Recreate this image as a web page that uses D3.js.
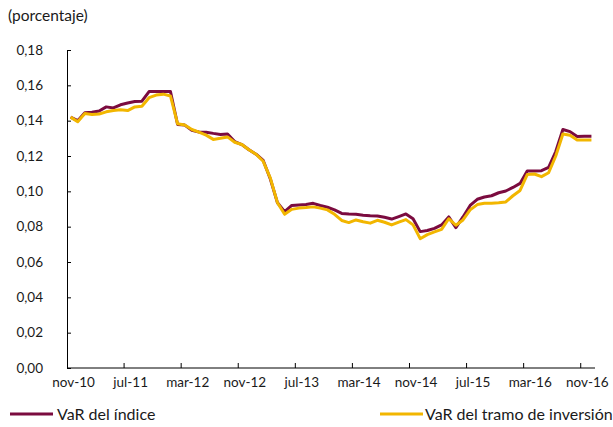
<!DOCTYPE html>
<html><head><meta charset="utf-8">
<script src="https://cdn.jsdelivr.net/npm/d3@7"></script>
<style>
html,body{margin:0;padding:0;background:#fff;}
text{font-family:Lato,"Open Sans",sans-serif;fill:#1a1a1a;}
</style></head>
<body><svg id="c" width="613" height="427"></svg>
<script>
const months = [
"nov-10","dic-10",
"ene-11","feb-11","mar-11","abr-11","may-11","jun-11","jul-11","ago-11","sep-11","oct-11","nov-11","dic-11",
"ene-12","feb-12","mar-12","abr-12","may-12","jun-12","jul-12","ago-12","sep-12","oct-12","nov-12","dic-12",
"ene-13","feb-13","mar-13","abr-13","may-13","jun-13","jul-13","ago-13","sep-13","oct-13","nov-13","dic-13",
"ene-14","feb-14","mar-14","abr-14","may-14","jun-14","jul-14","ago-14","sep-14","oct-14","nov-14","dic-14",
"ene-15","feb-15","mar-15","abr-15","may-15","jun-15","jul-15","ago-15","sep-15","oct-15","nov-15","dic-15",
"ene-16","feb-16","mar-16","abr-16","may-16","jun-16","jul-16","ago-16","sep-16","oct-16","nov-16","dic-16"];

const varIndice = [
0.1420,0.1400,0.1445,0.1448,0.1455,0.1478,0.1472,0.1490,0.1500,0.1508,
0.1510,0.1565,0.1565,0.1565,0.1565,0.1378,0.1375,0.1345,0.1336,0.1335,
0.1328,0.1322,0.1325,0.1282,0.1265,0.1235,0.1210,0.1175,0.1070,0.0935,
0.0885,0.0920,0.0923,0.0925,0.0932,0.0920,0.0910,0.0895,0.0875,0.0872,
0.0870,0.0865,0.0862,0.0860,0.0853,0.0843,0.0857,0.0872,0.0845,0.0772,
0.0778,0.0790,0.0810,0.0855,0.0795,0.0855,0.0920,0.0955,0.0968,0.0975,
0.0992,0.1002,0.1022,0.1045,0.1115,0.1115,0.1117,0.1135,0.1225,0.1350,
0.1338,0.1310,0.1312,0.1312];

const varTramo = [
0.1420,0.1394,0.1440,0.1435,0.1438,0.1450,0.1458,0.1462,0.1457,0.1478,
0.1482,0.1530,0.1545,0.1550,0.1540,0.1382,0.1375,0.1350,0.1335,0.1318,
0.1294,0.1300,0.1308,0.1278,0.1265,0.1235,0.1210,0.1170,0.1075,0.0935,
0.0870,0.0898,0.0905,0.0908,0.0912,0.0905,0.0895,0.0870,0.0835,0.0823,
0.0838,0.0828,0.0820,0.0836,0.0825,0.0810,0.0826,0.0840,0.0810,0.0732,
0.0755,0.0770,0.0785,0.0845,0.0808,0.0838,0.0895,0.0925,0.0932,0.0932,
0.0935,0.0940,0.0975,0.1005,0.1095,0.1098,0.1083,0.1105,0.1200,0.1325,
0.1318,0.1290,0.1290,0.1290];

const yTicks = [0,0.02,0.04,0.06,0.08,0.10,0.12,0.14,0.16,0.18];
const labelEvery = 8;
const seriesNames = ["VaR del índice","VaR del tramo de inversión"];
const colors = ["#7b0b3f","#f2b600"];

const svg = d3.select("#c");
const x = d3.scaleBand().domain(months).range([67,595]).padding(0);
const y = d3.scaleLinear().domain([0,0.18]).range([368,50]);
const fmt = v => d3.format(".2f")(v).replace(".",",");

// y axis
const ya = svg.append("g").attr("transform","translate(67,0)")
  .call(d3.axisLeft(y).tickValues(yTicks).tickSize(-4).tickPadding(24).tickFormat(fmt));
ya.select(".domain").attr("stroke","#000");
ya.selectAll(".tick line").attr("stroke","#000");
ya.selectAll("text").attr("font-size","13.5px").attr("font-family","Lato,'Open Sans',sans-serif").attr("fill","#1a1a1a");

// x axis
const xg = svg.append("g");
xg.append("line").attr("x1",x.range()[0]).attr("x2",x.range()[1]).attr("y1",y(0)).attr("y2",y(0)).attr("stroke","#000");
const tickIdx = d3.range(0, months.length, labelEvery);
xg.selectAll("line.t").data(tickIdx.slice(1)).join("line").attr("class","t")
  .attr("x1",i=>x(months[i])).attr("x2",i=>x(months[i]))
  .attr("y1",y(0)).attr("y2",y(0)-5).attr("stroke","#000");
xg.selectAll("text").data(tickIdx).join("text")
  .attr("x",i=>x(months[i])+x.bandwidth()/2).attr("dx",3)
  .attr("y",y(0)+19).attr("text-anchor","middle").attr("font-size","13.5px")
  .text(i=>months[i]);

// lines
const line = d3.line().x((d,i)=>x(months[i])+x.bandwidth()/2).y(d=>y(d));
[varIndice,varTramo].forEach((s,k)=>{
  svg.append("path").datum(s).attr("d",line).attr("fill","none")
    .attr("stroke",colors[k]).attr("stroke-width",3).attr("stroke-linejoin","round");
});

// unit label
svg.append("text").attr("x",8).attr("y",21).attr("font-size","15.5px").text("(porcentaje)");

// legend
const leg = [{x:10,tx:57},{x:380,tx:425}];
leg.forEach((l,k)=>{
  svg.append("line").attr("x1",l.x).attr("x2",l.x+43).attr("y1",414).attr("y2",414)
    .attr("stroke",colors[k]).attr("stroke-width",3);
  svg.append("text").attr("x",l.tx).attr("y",420).attr("font-size","16px").text(seriesNames[k]);
});
</script></body></html>
